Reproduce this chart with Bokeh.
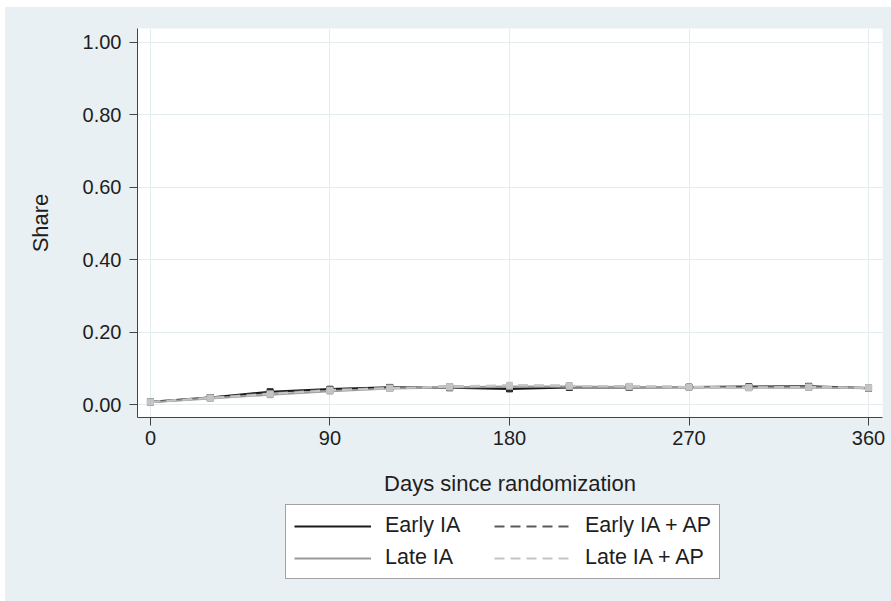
from bokeh.plotting import figure
from bokeh.layouts import column
from bokeh.models import Range1d, FixedTicker, Legend, LegendItem, PrintfTickFormatter
from bokeh.embed import file_html
from bokeh.resources import INLINE

days = [0, 30, 60, 90, 120, 150, 180, 210, 240, 270, 300, 330, 360]
early_ia = [0.008, 0.020, 0.036, 0.043, 0.048, 0.047, 0.044, 0.048, 0.048, 0.049, 0.050, 0.051, 0.046]
late_ia = [0.007, 0.018, 0.028, 0.038, 0.045, 0.048, 0.050, 0.050, 0.049, 0.049, 0.047, 0.048, 0.046]
early_ia_ap = [0.008, 0.020, 0.032, 0.042, 0.047, 0.050, 0.052, 0.052, 0.050, 0.049, 0.049, 0.050, 0.046]
late_ia_ap = [0.008, 0.019, 0.030, 0.040, 0.046, 0.050, 0.054, 0.052, 0.051, 0.049, 0.048, 0.049, 0.047]

x_ticks = [0, 90, 180, 270, 360]
y_ticks = [0.0, 0.2, 0.4, 0.6, 0.8, 1.0]
legend_order = ["Early IA", "Late IA", "Early IA + AP", "Late IA + AP"]

FONT = "Liberation Sans"
TXT = "#1e1e1e"
BG = "#e9f0f3"

p = figure(frame_width=745, frame_height=389, output_backend="svg", toolbar_location=None,
           x_range=Range1d(-6.5, 367), y_range=Range1d(-0.035, 1.038),
           min_border_left=132, min_border_right=9, min_border_top=21, min_border_bottom=80,
           border_fill_color=BG, background_fill_color="white")
p.outline_line_color = None

for ax in (p.xaxis[0], p.yaxis[0]):
    ax.axis_line_color = "#444444"
    ax.major_tick_line_color = "#444444"
    ax.major_tick_out = 8
    ax.major_tick_in = 0
    ax.minor_tick_line_color = None
    ax.major_label_text_font = FONT
    ax.major_label_text_font_size = "20px"
    ax.major_label_text_color = TXT
    ax.axis_label_text_font = FONT
    ax.axis_label_text_font_size = "22px"
    ax.axis_label_text_color = TXT
    ax.axis_label_text_font_style = "normal"

p.xaxis.ticker = FixedTicker(ticks=x_ticks)
p.yaxis.ticker = FixedTicker(ticks=y_ticks)
p.yaxis.formatter = PrintfTickFormatter(format="%.2f")
p.yaxis.major_label_orientation = "horizontal"
p.xaxis.axis_label = "Days since randomization"
p.yaxis.axis_label = "Share"
p.yaxis.major_label_standoff = 8
p.yaxis.axis_label_standoff = 27
p.xaxis.major_label_standoff = 5
p.xaxis.axis_label_standoff = 23

p.xgrid.ticker = FixedTicker(ticks=x_ticks)
p.ygrid.ticker = FixedTicker(ticks=y_ticks)
p.grid.grid_line_color = "#e3ecef"
p.grid.grid_line_width = 1

series = [
    ("Early IA", early_ia, "#1a1a1a", "solid"),
    ("Early IA + AP", early_ia_ap, "#5a5a5a", "10 6"),
    ("Late IA", late_ia, "#9a9a9a", "solid"),
    ("Late IA + AP", late_ia_ap, "#c4c4c4", "10 6"),
]
for name, vals, col, dash in series:
    p.line(days, vals, line_color=col, line_width=2.2, line_dash=dash)
    p.scatter(days, vals, marker="square", size=6, fill_color=col, line_color=col)

# legend panel below the chart (its key lines use the same data, kept out of view)
p2 = figure(frame_width=745, frame_height=104, output_backend="svg", toolbar_location=None,
            x_range=Range1d(0, 745), y_range=Range1d(10, 11),
            min_border_left=132, min_border_right=9, min_border_top=0, min_border_bottom=0,
            border_fill_color=BG, background_fill_color=BG)
p2.outline_line_color = BG
p2.outline_line_width = 2
p2.axis.visible = False
p2.grid.visible = False
keys = {}
for name, vals, col, dash in series:
    keys[name] = p2.line(days, vals, line_color=col, line_width=2.2, line_dash=dash)

items = [LegendItem(label=n, renderers=[keys[n]]) for n in legend_order]
legend = Legend(items=items, ncols=2, location=(148, 23), orientation="vertical")
legend.label_text_font = FONT
legend.label_text_font_size = "21.5px"
legend.label_text_color = TXT
legend.glyph_width = 77
legend.glyph_height = 22
legend.label_height = 22
legend.label_width = 102
legend.label_standoff = 14
legend.spacing = 7
legend.padding = 8
legend.margin = 0
legend.border_line_color = "#444444"
legend.border_line_width = 1
legend.background_fill_color = "white"
legend.background_fill_alpha = 1
p2.add_layout(legend, "center")

layout = column(p, p2, spacing=0)
layout.margin = (7, 0, 0, 5)
layout.styles = {"background-color": BG}
open("out.html", "w").write(file_html(layout, INLINE))
